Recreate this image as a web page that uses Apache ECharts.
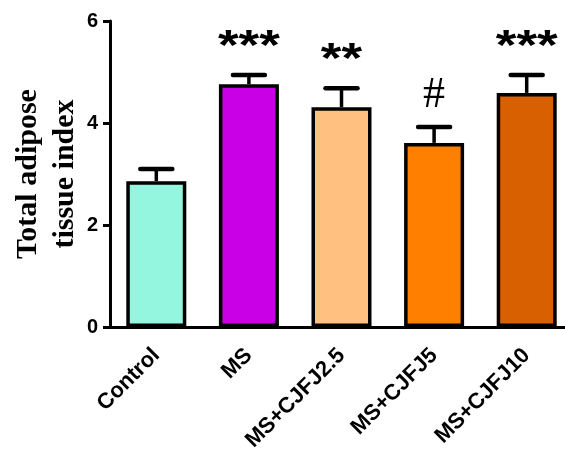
<!DOCTYPE html>
<html>
<head>
<meta charset="utf-8">
<script src="https://cdn.jsdelivr.net/npm/echarts@6/dist/echarts.min.js"></script>
<style>
  html, body { margin: 0; padding: 0; background: #ffffff; }
  #chart { width: 565px; height: 454px; }
</style>
</head>
<body>
<div id="chart"></div>
<script>
// Groups, mean values, SEM and significance marks
const categories = ['Control', 'MS', 'MS+CJFJ2.5', 'MS+CJFJ5', 'MS+CJFJ10'];
const means = [2.86, 4.76, 4.31, 3.61, 4.59];
const errors = [0.24, 0.18, 0.37, 0.31, 0.35];
const marks = ['', '***', '**', '#', '***'];
const barColors = ['#94F6DF', '#C900E6', '#FFC080', '#FF8000', '#D96000'];
const yTicks = [0, 2, 4, 6];

const chart = echarts.init(document.getElementById('chart'));

const barData = means.map((v, i) => ({
  value: v,
  itemStyle: { color: barColors[i] }
}));

const errData = means.map((v, i) => [i, v, v + errors[i]]);

chart.setOption({
  animation: false,
  backgroundColor: '#ffffff',
  grid: { left: 110, right: -8, top: 21, bottom: 127, containLabel: false, outerBoundsMode: 'none' },
  xAxis: {
    type: 'category',
    data: categories,
    axisLine: { lineStyle: { color: '#000', width: 3 } },
    axisTick: { alignWithLabel: true, length: 8, lineStyle: { color: '#000', width: 3 } },
    axisLabel: {
      rotate: 45,
      margin: 25,
      color: '#000',
      fontFamily: 'Liberation Sans, Arial, sans-serif',
      fontWeight: 'bold',
      fontSize: 22,
      interval: 0
    }
  },
  yAxis: {
    type: 'value',
    min: 0,
    max: 6,
    interval: 2,
    name: 'Total adipose\ntissue index',
    nameLocation: 'middle',
    nameRotate: 90,
    nameGap: 26,
    nameMoveOverlap: false,
    nameTextStyle: {
      color: '#000',
      fontFamily: 'Liberation Serif, Times New Roman, serif',
      fontWeight: 'bold',
      fontSize: 30,
      lineHeight: 37
    },
    axisLine: { show: true, lineStyle: { color: '#000', width: 3 } },
    axisTick: { show: true, length: 7, lineStyle: { color: '#000', width: 3 } },
    splitLine: { show: false },
    axisLabel: {
      margin: 12,
      color: '#000',
      fontFamily: 'Liberation Sans, Arial, sans-serif',
      fontWeight: 'bold',
      fontSize: 20,
      formatter: (v) => (yTicks.indexOf(v) >= 0 ? String(v) : '')
    }
  },
  series: [
    {
      type: 'bar',
      data: barData,
      barWidth: 60,
      itemStyle: { borderColor: '#000', borderWidth: 3.5 },
      z: 2
    },
    {
      type: 'custom',
      data: errData,
      z: 3,
      renderItem: (params, api) => {
        const x = api.coord([api.value(0), api.value(1)])[0];
        const yMean = api.coord([api.value(0), api.value(1)])[1];
        const yTop = api.coord([api.value(0), api.value(2)])[1];
        const mark = marks[params.dataIndex];
        const half = 16;
        const children = [
          {
            type: 'line',
            shape: { x1: x, y1: yMean, x2: x, y2: yTop },
            style: { stroke: '#000', lineWidth: 3.5 }
          },
          {
            type: 'line',
            shape: { x1: x - half, y1: yTop, x2: x + half, y2: yTop },
            style: { stroke: '#000', lineWidth: 4.5, lineCap: 'round' }
          }
        ];
        if (mark) {
          const isHash = mark === '#';
          children.push({
            type: 'text',
            x: x,
            y: yTop - (isHash ? 10 : 7),
            scaleY: isHash ? 1 : 0.8,
            style: {
              text: mark,
              fill: '#000',
              align: 'center',
              verticalAlign: 'bottom',
              fontFamily: isHash ? 'Liberation Serif, serif' : 'Liberation Sans, Arial, sans-serif',
              fontWeight: isHash ? 'normal' : 'bold',
              fontSize: isHash ? 44 : 53
            }
          });
        }
        return { type: 'group', children: children };
      }
    }
  ]
});
</script>
</body>
</html>
